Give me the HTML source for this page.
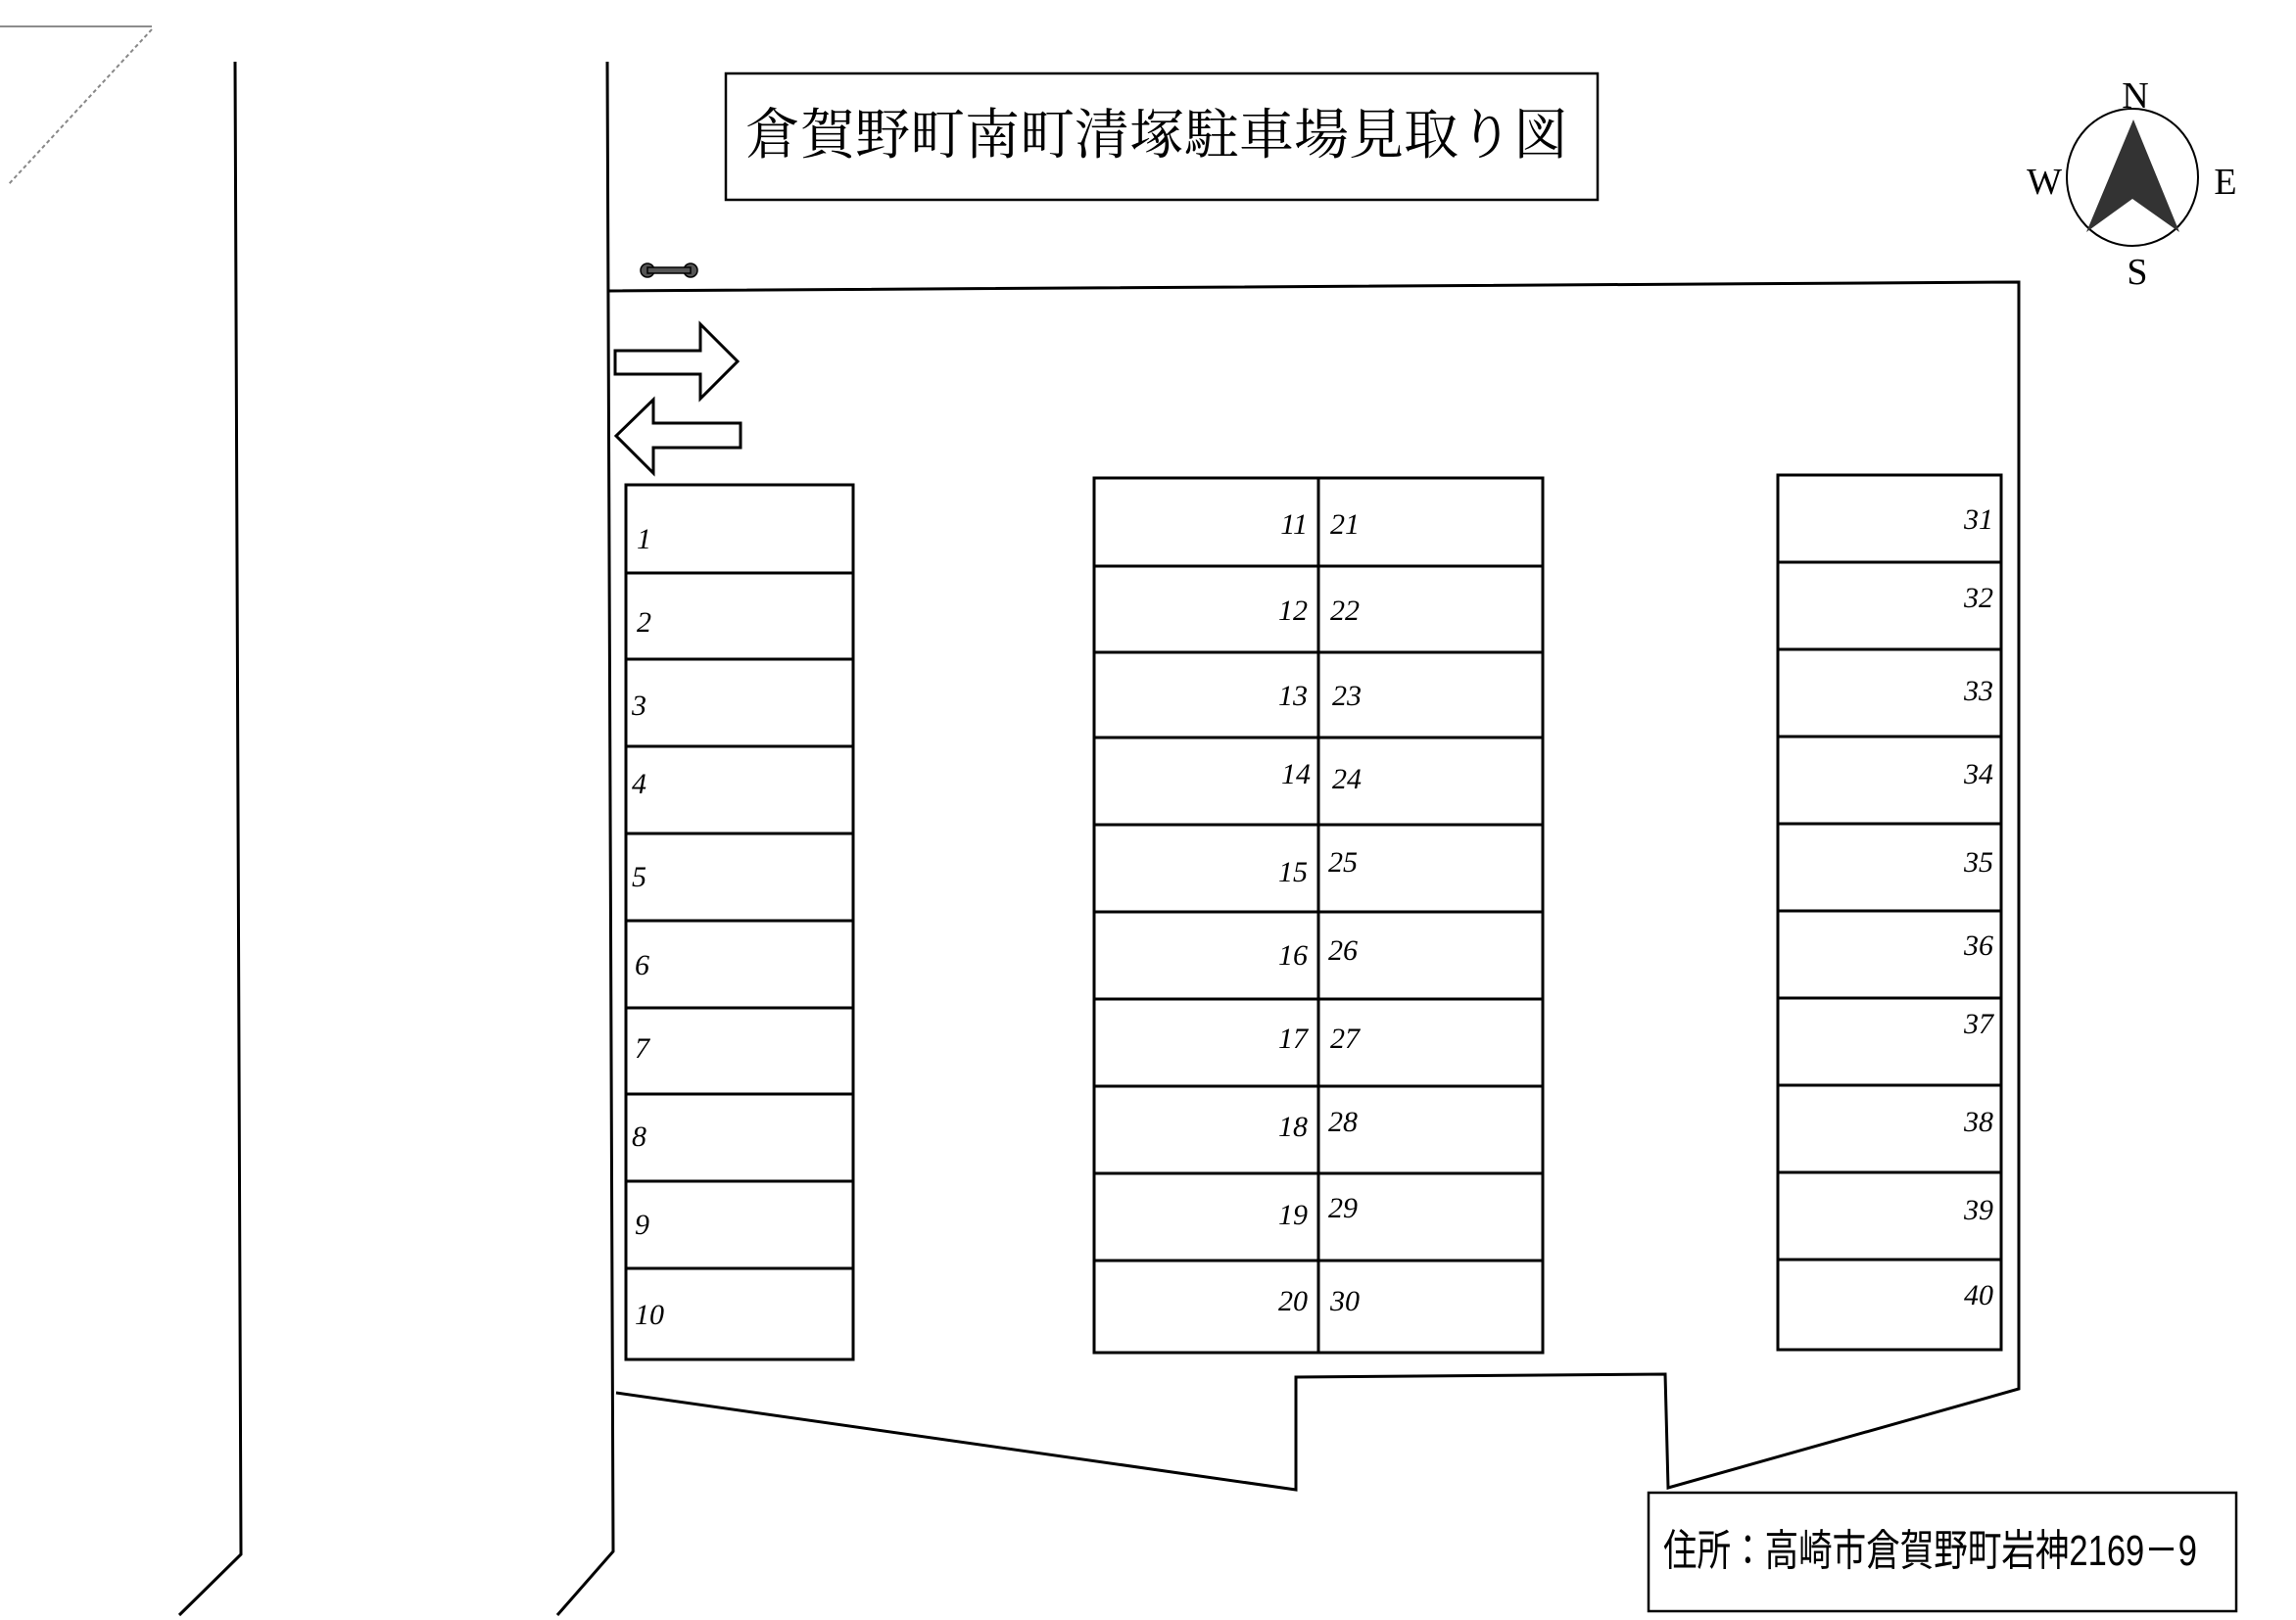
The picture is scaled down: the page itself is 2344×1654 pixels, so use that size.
<!DOCTYPE html>
<html><head><meta charset="utf-8"><style>
html,body{margin:0;padding:0;background:#fff;}
svg{display:block;}
.n{font-family:"Liberation Serif",serif;font-style:italic;font-size:30px;fill:#000;}
</style></head><body>
<svg width="2344" height="1654" viewBox="0 0 2344 1654" xmlns="http://www.w3.org/2000/svg">
<g stroke="#000" fill="none" stroke-width="3">
<!-- top-left marks -->
<line x1="0" y1="27" x2="155" y2="27" stroke-width="1.5" stroke="#666"/>
<line x1="155" y1="30" x2="8" y2="189" stroke-width="2" stroke="#888" stroke-dasharray="4 3"/>
<!-- outer road lines -->
<polyline points="240,63 246,1587 183,1649"/>
<polyline points="620,63 626,1584 569,1649"/>
<!-- lot boundary -->
<polyline points="622,297 2061,288 2061,1418 1703,1519 1700,1403 1323,1406 1323,1521 629,1422" />
<!-- title box -->
<rect x="741" y="75" width="890" height="129" stroke-width="2.5"/>
<!-- address box -->
<rect x="1683" y="1524" width="600" height="121" stroke-width="2.5"/>
<!-- arrows -->
<polygon points="628,358 715,358 715,331 753,369 715,407 715,382 628,382"/>
<polygon points="756,432 667,432 667,408 629,445 667,483 667,457 756,457"/>
<!-- left column -->
<rect x="639" y="495" width="232" height="893"/>
<line x1="639" y1="585" x2="871" y2="585"/><line x1="639" y1="673" x2="871" y2="673"/>
<line x1="639" y1="762" x2="871" y2="762"/><line x1="639" y1="851" x2="871" y2="851"/>
<line x1="639" y1="940" x2="871" y2="940"/><line x1="639" y1="1029" x2="871" y2="1029"/>
<line x1="639" y1="1117" x2="871" y2="1117"/><line x1="639" y1="1206" x2="871" y2="1206"/>
<line x1="639" y1="1295" x2="871" y2="1295"/>
<!-- middle -->
<rect x="1117" y="488" width="458" height="893"/>
<line x1="1346" y1="488" x2="1346" y2="1381"/>
<line x1="1117" y1="578" x2="1575" y2="578"/><line x1="1117" y1="666" x2="1575" y2="666"/>
<line x1="1117" y1="753" x2="1575" y2="753"/><line x1="1117" y1="842" x2="1575" y2="842"/>
<line x1="1117" y1="931" x2="1575" y2="931"/><line x1="1117" y1="1020" x2="1575" y2="1020"/>
<line x1="1117" y1="1109" x2="1575" y2="1109"/><line x1="1117" y1="1198" x2="1575" y2="1198"/>
<line x1="1117" y1="1287" x2="1575" y2="1287"/>
<!-- right -->
<rect x="1815" y="485" width="228" height="893"/>
<line x1="1815" y1="574" x2="2043" y2="574"/><line x1="1815" y1="663" x2="2043" y2="663"/>
<line x1="1815" y1="752" x2="2043" y2="752"/><line x1="1815" y1="841" x2="2043" y2="841"/>
<line x1="1815" y1="930" x2="2043" y2="930"/><line x1="1815" y1="1019" x2="2043" y2="1019"/>
<line x1="1815" y1="1108" x2="2043" y2="1108"/><line x1="1815" y1="1197" x2="2043" y2="1197"/>
<line x1="1815" y1="1286" x2="2043" y2="1286"/>
<!-- compass -->
<ellipse cx="2177" cy="181" rx="67" ry="70" stroke-width="2"/>
</g>
<polygon points="2178,122 2225,237 2177,203 2130,237" fill="#333"/>
<!-- dumbbell -->
<g fill="#555" stroke="#000" stroke-width="1.5">
<circle cx="661" cy="276" r="7"/><circle cx="705" cy="276" r="7"/>
<rect x="661" y="273" width="44" height="6"/>
</g>
<g font-family="Liberation Serif,serif" font-size="38" text-anchor="middle" fill="#000">
<text x="2180" y="110">N</text><text x="2087" y="198">W</text>
<text x="2272" y="198">E</text><text x="2182" y="290">S</text>
</g>
<text x="761" y="157" font-family="'Liberation Serif','Noto Serif CJK SC',serif" font-size="56" fill="#000">倉賀野町南町清塚駐車場見取り図</text>
<text x="1698" y="1598" font-family="'Liberation Sans','Noto Sans CJK JP',sans-serif" font-size="44" fill="#000" textLength="545" lengthAdjust="spacingAndGlyphs">住所：高崎市倉賀野町岩神2169－9</text>
<g class="n">
<text x="650" y="560">1</text><text x="650" y="645">2</text><text x="645" y="730">3</text>
<text x="645" y="810">4</text><text x="645" y="905">5</text><text x="648" y="995">6</text>
<text x="648" y="1080">7</text><text x="645" y="1170">8</text><text x="648" y="1260">9</text>
<text x="648" y="1352">10</text>
</g>
<g class="n" text-anchor="end">
<text x="1335" y="545">11</text><text x="1335" y="633">12</text><text x="1335" y="720">13</text>
<text x="1338" y="800">14</text><text x="1335" y="900">15</text><text x="1335" y="985">16</text>
<text x="1335" y="1070">17</text><text x="1335" y="1160">18</text><text x="1335" y="1250">19</text>
<text x="1335" y="1338">20</text>
<text x="2035" y="540">31</text><text x="2035" y="620">32</text><text x="2035" y="715">33</text>
<text x="2035" y="800">34</text><text x="2035" y="890">35</text><text x="2035" y="975">36</text>
<text x="2035" y="1055">37</text><text x="2035" y="1155">38</text><text x="2035" y="1245">39</text>
<text x="2035" y="1332">40</text>
</g>
<g class="n">
<text x="1358" y="545">21</text><text x="1358" y="633">22</text><text x="1360" y="720">23</text>
<text x="1360" y="805">24</text><text x="1356" y="890">25</text><text x="1356" y="980">26</text>
<text x="1358" y="1070">27</text><text x="1356" y="1155">28</text><text x="1356" y="1243">29</text>
<text x="1358" y="1338">30</text>
</g>
</svg>
</body></html>
